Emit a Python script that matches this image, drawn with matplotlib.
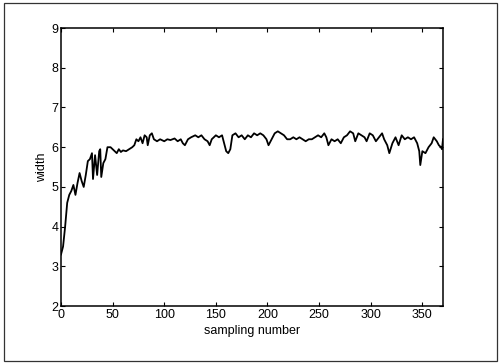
import matplotlib
matplotlib.use("Agg")
import matplotlib.pyplot as plt
from matplotlib.patches import Rectangle

# sampling number vs measured width
sample_no = [0, 2, 4, 6, 8, 10, 12, 14, 16, 18, 20, 22, 24, 26, 28, 30, 31, 33, 35, 37, 38, 39,
             41, 43, 45, 48, 50, 52, 54, 56, 58, 60, 63, 66, 69, 71, 73, 75, 77, 79, 81, 83,
             84, 86, 88, 90, 93, 96, 100, 103, 106, 110, 113, 116, 118, 120, 123, 126, 130,
             133, 136, 139, 142, 144, 146, 150, 153, 156, 158, 160, 162, 164, 166, 169, 172,
             175, 178, 181, 184, 187, 190, 193, 196, 199, 201, 204, 207, 210, 213, 216, 219,
             222, 225, 228, 231, 234, 237, 240, 243, 246, 249, 252, 255, 257, 259, 262, 265,
             268, 271, 274, 277, 280, 283, 285, 288, 291, 294, 296, 299, 302, 305, 308, 311,
             313, 316, 318, 321, 324, 327, 330, 333, 336, 339, 342, 345, 347, 348, 350, 353,
             356, 359, 361, 364, 366, 368, 369, 370]
width = [3.3, 3.5, 4.0, 4.6, 4.8, 4.9, 5.05, 4.8, 5.1, 5.35, 5.15, 5.0, 5.3, 5.65, 5.7, 5.85,
         5.2, 5.8, 5.3, 5.9, 5.95, 5.25, 5.6, 5.7, 6.0, 6.0, 5.95, 5.9, 5.85, 5.95, 5.88,
         5.92, 5.9, 5.95, 6.0, 6.05, 6.2, 6.15, 6.25, 6.1, 6.3, 6.25, 6.05, 6.3, 6.35, 6.2,
         6.15, 6.2, 6.15, 6.2, 6.18, 6.22, 6.15, 6.2, 6.1, 6.05, 6.2, 6.25, 6.3, 6.25, 6.3,
         6.2, 6.15, 6.05, 6.2, 6.3, 6.25, 6.3, 6.1, 5.9, 5.85, 5.95, 6.3, 6.35, 6.25, 6.3,
         6.2, 6.3, 6.25, 6.35, 6.3, 6.35, 6.3, 6.2, 6.05, 6.2, 6.35, 6.4, 6.35, 6.3, 6.2,
         6.2, 6.25, 6.2, 6.25, 6.2, 6.15, 6.2, 6.2, 6.25, 6.3, 6.25, 6.35, 6.25, 6.05, 6.2,
         6.15, 6.2, 6.1, 6.25, 6.3, 6.4, 6.35, 6.15, 6.35, 6.3, 6.25, 6.15, 6.35, 6.3, 6.15,
         6.25, 6.35, 6.2, 6.05, 5.85, 6.1, 6.25, 6.05, 6.3, 6.2, 6.25, 6.2, 6.25, 6.1, 5.9,
         5.55, 5.9, 5.85, 6.0, 6.1, 6.25, 6.15, 6.05, 6.0, 5.95, 6.2]

x_ticks = [0, 50, 100, 150, 200, 250, 300, 350]
y_ticks = [2, 3, 4, 5, 6, 7, 8, 9]

plt.rcParams['font.family'] = ['Liberation Sans', 'DejaVu Sans']

fig = plt.figure(figsize=(5, 3.64), dpi=100)
ax = fig.add_axes([0.122, 0.159, 0.764, 0.764])

ax.plot(sample_no, width, color='black', linewidth=1.3)

ax.set_xlim(0, 370)
ax.set_ylim(2, 9)
ax.set_xticks(x_ticks)
ax.set_yticks(y_ticks)
ax.tick_params(direction='in', length=3, top=True, right=True, labelsize=9, pad=2)
for s in ax.spines.values():
    s.set_linewidth(1.1)

ax.set_xlabel('sampling number', fontsize=9, labelpad=3)
ax.set_ylabel('width', fontsize=9, labelpad=2)

# outer frame round the whole figure
fig.patches.append(Rectangle((0.008, 0.008), 0.986, 0.984, transform=fig.transFigure,
                             fill=False, edgecolor='#333333', linewidth=0.9))

fig.savefig('out.png', dpi=100)
